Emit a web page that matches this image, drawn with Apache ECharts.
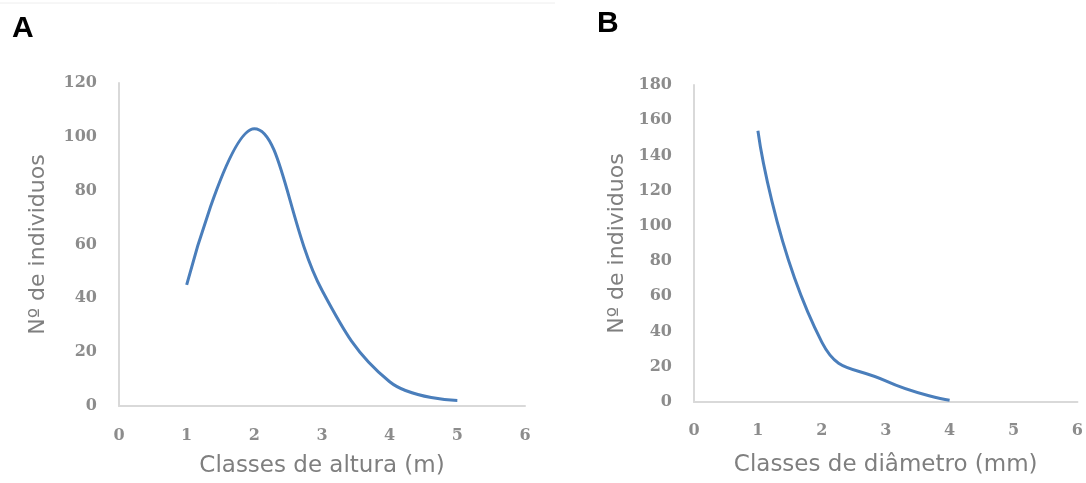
<!DOCTYPE html>
<html>
<head>
<meta charset="utf-8">
<script src="https://cdn.jsdelivr.net/npm/echarts@6/dist/echarts.min.js"></script>
<style>
html,body{margin:0;padding:0;background:#fff;}
#c{width:1086px;height:483px;}
</style>
</head>
<body>
<div id="c"></div>
<script>
// Panel A: height classes
const classesA = [1, 2, 3, 4, 5];
const valuesA = [45, 103, 43, 9, 2];
// Panel B: diameter classes
const classesB = [1, 2, 3, 4];
const valuesB = [154, 34, 12, 1];

const panelLabels = ['A', 'B'];
const xTitles = ['Classes de altura (m)', 'Classes de diâmetro (mm)'];
const yTitle = 'Nº de individuos';

const tickFont = {color: '#8c8c8c', fontFamily: 'DejaVu Serif', fontSize: 16, fontWeight: 'bold'};
const xNameFont = {color: '#7f7f7f', fontFamily: 'DejaVu Sans', fontSize: 23};
const yNameFont = {color: '#7f7f7f', fontFamily: 'DejaVu Sans', fontSize: 22};
const axisLineStyle = {show: true, lineStyle: {color: '#d9d9d9', width: 2}};

function xAxis(gridIndex, gap, margin) {
  return {
    type: 'value', gridIndex, min: 0, max: 6, interval: 1,
    name: xTitles[gridIndex], nameLocation: 'middle', nameGap: gap, nameTextStyle: xNameFont,
    axisLine: axisLineStyle, axisTick: {show: false}, splitLine: {show: false},
    axisLabel: Object.assign({margin}, tickFont)
  };
}
function yAxis(gridIndex, max, gap, margin) {
  return {
    type: 'value', gridIndex, min: 0, max, interval: 20,
    name: yTitle, nameLocation: 'middle', nameGap: gap, nameTextStyle: yNameFont,
    axisLine: axisLineStyle, axisTick: {show: false}, splitLine: {show: false},
    axisLabel: Object.assign({margin}, tickFont)
  };
}

const lineStyle = {color: '#4a7ebb', width: 3};
const panelFont = {fontFamily: 'Liberation Sans', fontWeight: 'bold', fontSize: 30, color: '#000'};

const chart = echarts.init(document.getElementById('c'), null, {renderer: 'canvas'});
chart.setOption({
  backgroundColor: '#ffffff',
  animation: false,
  title: [
    {text: panelLabels[0], left: 12, top: 14, padding: 0, textStyle: panelFont},
    {text: panelLabels[1], left: 597, top: 9, padding: 0, textStyle: panelFont}
  ],
  graphic: [
    {type: 'line', shape: {x1: 0, y1: 3, x2: 555, y2: 3}, style: {stroke: '#eeeeee', lineWidth: 1}, silent: true}
  ],
  grid: [
    {left: 119, top: 83, width: 406, height: 325, containLabel: false},
    {left: 694, top: 85, width: 389, height: 317, containLabel: false}
  ],
  xAxis: [xAxis(0, 49, 22), xAxis(1, 52, 21)],
  yAxis: [yAxis(0, 120, 70, 22), yAxis(1, 180, 66, 22)],
  series: [
    {
      type: 'line', xAxisIndex: 0, yAxisIndex: 0, smooth: 0.4, symbol: 'none',
      lineStyle, data: classesA.map((x, i) => [x, valuesA[i]])
    },
    {
      type: 'line', xAxisIndex: 1, yAxisIndex: 1, smooth: 0.5, symbol: 'none',
      lineStyle, data: classesB.map((x, i) => [x, valuesB[i]])
    }
  ]
});
</script>
</body>
</html>
